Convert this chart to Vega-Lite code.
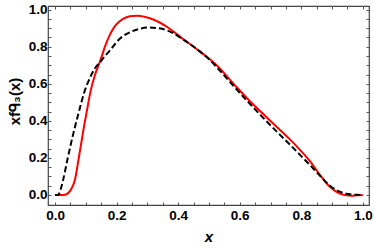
{
  "$schema": "https://vega.github.io/schema/vega-lite/v6.json",
  "autosize": "none",
  "padding": {"left": 48, "top": 6, "right": 5, "bottom": 45},
  "width": 321,
  "height": 199,
  "config": {
    "view": {"stroke": "#444444", "strokeWidth": 1.2},
    "axis": {
      "domain": false,
      "grid": false,
      "tickColor": "#555555",
      "tickWidth": 1,
      "tickSize": -3,
      "labelFont": "Liberation Sans",
      "labelFontWeight": "bold",
      "labelFontSize": 13.5,
      "labelColor": "#000000",
      "titleFont": "Liberation Sans",
      "titleFontWeight": "bold",
      "titleFontSize": 15,
      "titleColor": "#000000"
    }
  },
  "data": {
    "values": [
      {"x": 0, "y": 0, "s": "red"},
      {"x": 0.02, "y": 0, "s": "red"},
      {"x": 0.035, "y": 0.003, "s": "red"},
      {"x": 0.05, "y": 0.025, "s": "red"},
      {"x": 0.065, "y": 0.085, "s": "red"},
      {"x": 0.075, "y": 0.18, "s": "red"},
      {"x": 0.085, "y": 0.28, "s": "red"},
      {"x": 0.094, "y": 0.37, "s": "red"},
      {"x": 0.104, "y": 0.46, "s": "red"},
      {"x": 0.114, "y": 0.55, "s": "red"},
      {"x": 0.13, "y": 0.65, "s": "red"},
      {"x": 0.147, "y": 0.725, "s": "red"},
      {"x": 0.163, "y": 0.805, "s": "red"},
      {"x": 0.179, "y": 0.868, "s": "red"},
      {"x": 0.195, "y": 0.913, "s": "red"},
      {"x": 0.21, "y": 0.938, "s": "red"},
      {"x": 0.23, "y": 0.958, "s": "red"},
      {"x": 0.25, "y": 0.966, "s": "red"},
      {"x": 0.27, "y": 0.967, "s": "red"},
      {"x": 0.29, "y": 0.962, "s": "red"},
      {"x": 0.308, "y": 0.954, "s": "red"},
      {"x": 0.335, "y": 0.935, "s": "red"},
      {"x": 0.363, "y": 0.908, "s": "red"},
      {"x": 0.39, "y": 0.875, "s": "red"},
      {"x": 0.417, "y": 0.84, "s": "red"},
      {"x": 0.445, "y": 0.807, "s": "red"},
      {"x": 0.47, "y": 0.775, "s": "red"},
      {"x": 0.5, "y": 0.737, "s": "red"},
      {"x": 0.525, "y": 0.7, "s": "red"},
      {"x": 0.58, "y": 0.6, "s": "red"},
      {"x": 0.633, "y": 0.506, "s": "red"},
      {"x": 0.687, "y": 0.42, "s": "red"},
      {"x": 0.73, "y": 0.352, "s": "red"},
      {"x": 0.763, "y": 0.3, "s": "red"},
      {"x": 0.795, "y": 0.245, "s": "red"},
      {"x": 0.828, "y": 0.183, "s": "red"},
      {"x": 0.86, "y": 0.11, "s": "red"},
      {"x": 0.893, "y": 0.044, "s": "red"},
      {"x": 0.925, "y": 0.007, "s": "red"},
      {"x": 0.945, "y": -0.002, "s": "red"},
      {"x": 0.962, "y": -0.004, "s": "red"},
      {"x": 0.98, "y": -0.002, "s": "red"},
      {"x": 1.0, "y": 0, "s": "red"},
      {"x": 0, "y": 0, "s": "black"},
      {"x": 0.01, "y": 0, "s": "black"},
      {"x": 0.018, "y": 0.03, "s": "black"},
      {"x": 0.026, "y": 0.08, "s": "black"},
      {"x": 0.04, "y": 0.19, "s": "black"},
      {"x": 0.052, "y": 0.28, "s": "black"},
      {"x": 0.065, "y": 0.37, "s": "black"},
      {"x": 0.08, "y": 0.465, "s": "black"},
      {"x": 0.094, "y": 0.55, "s": "black"},
      {"x": 0.11, "y": 0.62, "s": "black"},
      {"x": 0.13, "y": 0.685, "s": "black"},
      {"x": 0.146, "y": 0.717, "s": "black"},
      {"x": 0.162, "y": 0.75, "s": "black"},
      {"x": 0.179, "y": 0.782, "s": "black"},
      {"x": 0.195, "y": 0.815, "s": "black"},
      {"x": 0.21, "y": 0.843, "s": "black"},
      {"x": 0.23, "y": 0.867, "s": "black"},
      {"x": 0.254, "y": 0.886, "s": "black"},
      {"x": 0.28, "y": 0.899, "s": "black"},
      {"x": 0.308, "y": 0.904, "s": "black"},
      {"x": 0.335, "y": 0.9, "s": "black"},
      {"x": 0.363, "y": 0.889, "s": "black"},
      {"x": 0.39, "y": 0.867, "s": "black"},
      {"x": 0.417, "y": 0.838, "s": "black"},
      {"x": 0.445, "y": 0.807, "s": "black"},
      {"x": 0.47, "y": 0.775, "s": "black"},
      {"x": 0.5, "y": 0.733, "s": "black"},
      {"x": 0.525, "y": 0.69, "s": "black"},
      {"x": 0.58, "y": 0.588, "s": "black"},
      {"x": 0.633, "y": 0.492, "s": "black"},
      {"x": 0.687, "y": 0.398, "s": "black"},
      {"x": 0.73, "y": 0.326, "s": "black"},
      {"x": 0.763, "y": 0.272, "s": "black"},
      {"x": 0.795, "y": 0.218, "s": "black"},
      {"x": 0.828, "y": 0.162, "s": "black"},
      {"x": 0.86, "y": 0.105, "s": "black"},
      {"x": 0.893, "y": 0.05, "s": "black"},
      {"x": 0.925, "y": 0.018, "s": "black"},
      {"x": 0.958, "y": 0.004, "s": "black"},
      {"x": 0.98, "y": 0.001, "s": "black"},
      {"x": 1.0, "y": 0, "s": "black"}
    ]
  },
  "resolve": {"axis": {"x": "independent", "y": "independent"}},
  "layer": [
    {
      "transform": [{"filter": "datum.s === 'red'"}],
      "mark": {"type": "line", "color": "#ff0000", "strokeWidth": 2, "interpolate": "monotone"},
      "encoding": {
        "x": {
          "field": "x", "type": "quantitative",
          "scale": {"domain": [-0.023, 1.02], "nice": false, "zero": false},
          "axis": {
            "orient": "bottom",
            "title": "x",
            "titleFontStyle": "italic",
            "titlePadding": 8,
            "values": [0, 0.05, 0.1, 0.15, 0.2, 0.25, 0.3, 0.35, 0.4, 0.45, 0.5, 0.55, 0.6, 0.65, 0.7, 0.75, 0.8, 0.85, 0.9, 0.95, 1.0],
            "labelExpr": "abs(datum.value * 5 - round(datum.value * 5)) < 0.001 ? format(datum.value, '.1f') : ''",
            "labelPadding": 6
          }
        },
        "y": {
          "field": "y", "type": "quantitative",
          "scale": {"domain": [-0.054, 1.02], "nice": false, "zero": false},
          "axis": {
            "orient": "left",
            "title": "xfᑫ₃(x)",
            "titlePadding": 6,
            "titleY": 95,
            "values": [0, 0.05, 0.1, 0.15, 0.2, 0.25, 0.3, 0.35, 0.4, 0.45, 0.5, 0.55, 0.6, 0.65, 0.7, 0.75, 0.8, 0.85, 0.9, 0.95, 1.0],
            "labelExpr": "abs(datum.value * 5 - round(datum.value * 5)) < 0.001 ? format(datum.value, '.1f') : ''",
            "labelPadding": 4
          }
        }
      }
    },
    {
      "transform": [{"filter": "datum.s === 'black'"}],
      "mark": {"type": "line", "color": "#000000", "strokeWidth": 2, "strokeDash": [6, 3], "interpolate": "monotone"},
      "encoding": {
        "x": {
          "field": "x", "type": "quantitative",
          "scale": {"domain": [-0.023, 1.02], "nice": false, "zero": false},
          "axis": {
            "orient": "top", "title": null, "labels": false,
            "values": [0, 0.05, 0.1, 0.15, 0.2, 0.25, 0.3, 0.35, 0.4, 0.45, 0.5, 0.55, 0.6, 0.65, 0.7, 0.75, 0.8, 0.85, 0.9, 0.95, 1.0]
          }
        },
        "y": {
          "field": "y", "type": "quantitative",
          "scale": {"domain": [-0.054, 1.02], "nice": false, "zero": false},
          "axis": {
            "orient": "right", "title": null, "labels": false,
            "values": [0, 0.05, 0.1, 0.15, 0.2, 0.25, 0.3, 0.35, 0.4, 0.45, 0.5, 0.55, 0.6, 0.65, 0.7, 0.75, 0.8, 0.85, 0.9, 0.95, 1.0]
          }
        }
      }
    }
  ]
}
